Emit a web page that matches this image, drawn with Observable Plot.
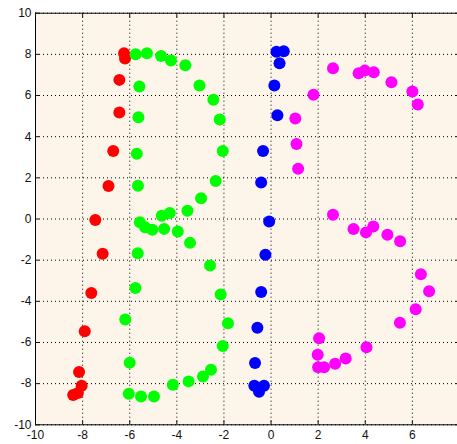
<!DOCTYPE html>
<html>
<head>
<meta charset="utf-8">
<script src="https://cdn.jsdelivr.net/npm/d3@7"></script>
<script src="https://cdn.jsdelivr.net/npm/@observablehq/plot@0.6"></script>
<style>
  html, body { margin: 0; padding: 0; background: #fff; overflow: hidden; }
  svg { display: block; }
</style>
</head>
<body>
<div id="chart"></div>
<script>
const xTicks = [-10, -8, -6, -4, -2, 0, 2, 4, 6];
const yTicks = [-10, -8, -6, -4, -2, 0, 2, 4, 6, 8, 10];

const redX = [-6.24, -6.2, -6.44, -6.44, -6.7, -6.9, -7.46, -7.15, -7.63, -7.91, -8.15, -8.04, -8.2, -8.4];
const redY = [8.05, 7.8, 6.76, 5.18, 3.3, 1.6, -0.05, -1.69, -3.6, -5.45, -7.44, -8.1, -8.45, -8.55];

const greenX = [-5.75, -5.27, -4.67, -4.25, -3.64, -3.04, -2.45, -2.18, -2.05, -2.35, -2.97, -3.55, -4.3, -4.64,
  -5.59, -5.63, -5.7, -5.65, -5.57, -5.35, -5.04, -4.54, -3.96, -3.44, -5.66, -2.59, -5.76, -2.14, -6.19, -1.83,
  -2.05, -6.0, -2.55, -2.89, -3.5, -4.17, -6.04, -5.52, -4.97];
const greenY = [8.0, 8.05, 7.92, 7.7, 7.47, 6.49, 5.8, 4.83, 3.3, 1.85, 1.01, 0.4, 0.29, 0.16,
  6.44, 4.94, 3.17, 1.61, -0.16, -0.4, -0.52, -0.48, -0.61, -1.16, -1.66, -2.26, -3.35, -3.67, -4.88, -5.07,
  -6.17, -6.98, -7.33, -7.65, -7.89, -8.05, -8.49, -8.62, -8.62];

const blueX = [0.23, 0.54, 0.36, 0.14, 0.27, -0.34, -0.42, -0.08, -0.24, -0.42, -0.58, -0.68, -0.71, -0.3, -0.51];
const blueY = [8.13, 8.15, 7.57, 6.49, 5.04, 3.3, 1.77, -0.12, -1.74, -3.55, -5.28, -7.0, -8.1, -8.1, -8.4];

const magentaX = [2.63, 3.72, 3.98, 4.36, 5.11, 6.0, 6.23, 1.8, 1.03, 1.08, 1.15, 2.63,
  3.5, 4.03, 4.34, 4.94, 5.48, 6.36, 6.71, 6.14, 5.47, 2.04, 4.05, 1.98, 2.0, 2.25, 2.72, 3.17];
const magentaY = [7.32, 7.08, 7.21, 7.13, 6.65, 6.2, 5.56, 6.04, 4.88, 3.65, 2.44, 0.21,
  -0.49, -0.65, -0.37, -0.76, -1.08, -2.69, -3.51, -4.38, -5.04, -5.8, -6.23, -6.6, -7.2, -7.2, -7.03, -6.78];

const seriesNames = ["Series 1", "Series 2", "Series 3", "Series 4"];
const seriesColors = ["#ff0000", "#00ff00", "#0000ff", "#ff00ff"];
const seriesXs = [redX, greenX, blueX, magentaX];
const seriesYs = [redY, greenY, blueY, magentaY];

const data = [];
seriesNames.forEach((name, i) => {
  seriesXs[i].forEach((x, j) => data.push({series: name, x, y: seriesYs[i][j]}));
});

const fmt = d => String(d);
const blank = () => "";

const chart = Plot.plot({
  width: 457,
  height: 444,
  marginLeft: 35,
  marginRight: -2,
  marginTop: 12.7,
  marginBottom: 19.7,
  style: {fontFamily: "'Liberation Sans', Arial, sans-serif", fontSize: "11px", color: "#111", background: "#fff", overflow: "visible"},
  x: {domain: [-10, 8], ticks: xTicks},
  y: {domain: [-10, 10], ticks: yTicks},
  color: {type: "ordinal", domain: seriesNames, range: seriesColors},
  marks: [
    Plot.frame({fill: "#fdf5e9", stroke: null}),
    Plot.gridX(xTicks, {stroke: "#000", strokeOpacity: 1, strokeWidth: 1, strokeDasharray: "1,3"}),
    Plot.gridY(yTicks, {stroke: "#000", strokeOpacity: 1, strokeWidth: 1, strokeDasharray: "1,3"}),
    Plot.frame({stroke: "#000", strokeWidth: 1}),
    Plot.axisX(xTicks, {anchor: "bottom", tickSize: -4, tickPadding: 10, tickFormat: fmt, label: null, fontSize: 12}),
    Plot.axisX(xTicks, {anchor: "top", tickSize: -4, tickFormat: blank, label: null}),
    Plot.axisY(yTicks, {anchor: "left", tickSize: -4, tickPadding: 8, tickFormat: fmt, label: null, fontSize: 12}),
    Plot.axisY(yTicks, {anchor: "right", tickSize: -4, tickFormat: blank, label: null}),
    Plot.dot(data, {x: "x", y: "y", fill: "series", r: 6, stroke: null})
  ]
});
document.getElementById("chart").appendChild(chart);
</script>
</body>
</html>
